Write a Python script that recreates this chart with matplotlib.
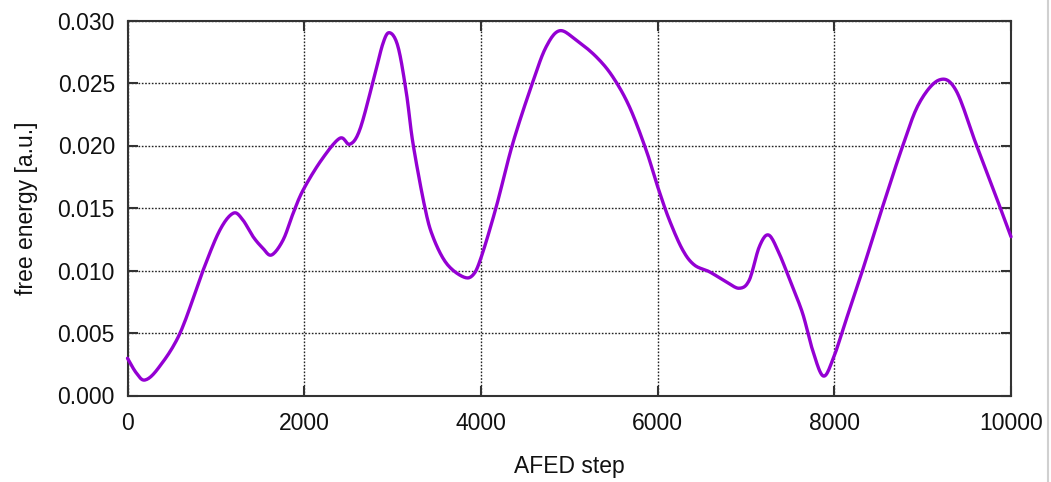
import matplotlib
matplotlib.use("Agg")
import matplotlib.pyplot as plt
from matplotlib.lines import Line2D
import numpy as np

# AFED step vs free energy [a.u.]
steps = [0, 100, 198, 350, 594, 857, 1046, 1196, 1300, 1422, 1530, 1630, 1761,
         1875, 1988, 2195, 2403, 2516, 2628, 2779, 2892, 2968, 3062, 3157,
         3231, 3364, 3457, 3609, 3797, 3910, 4005, 4174, 4362, 4588, 4739,
         4890, 5078, 5305, 5492, 5681, 5870, 6001, 6133, 6284, 6416, 6586,
         6775, 6925, 7038, 7151, 7256, 7375, 7510, 7641, 7754, 7875, 7990,
         8131, 8319, 8545, 8771, 8960, 9186, 9375, 9601, 9789, 10000]
energy = [0.00298, 0.0018, 0.00124, 0.0022, 0.00498, 0.01004, 0.01324, 0.01458,
          0.0141, 0.0127, 0.0118, 0.01124, 0.01244, 0.01458, 0.01644, 0.01884,
          0.02058, 0.0201, 0.02124, 0.0251, 0.02818, 0.02902, 0.0279, 0.02418,
          0.02018, 0.0151, 0.0127, 0.01058, 0.0095, 0.00964, 0.0111, 0.0151,
          0.0202, 0.0251, 0.0279, 0.02918, 0.02844, 0.0271, 0.0255, 0.0231,
          0.01964, 0.0167, 0.01404, 0.01164, 0.01044, 0.0099, 0.0091, 0.00858,
          0.00924, 0.0119, 0.01284, 0.01138, 0.00898, 0.00658, 0.00364, 0.00156,
          0.0030, 0.0060, 0.0100, 0.01506, 0.0199, 0.02338, 0.02524,
          0.02444, 0.02018, 0.0167, 0.0127]

xticks = [0, 2000, 4000, 6000, 8000, 10000]
yticks = [0.000, 0.005, 0.010, 0.015, 0.020, 0.025, 0.030]
ytick_labels = ["0.000", "0.005", "0.010", "0.015", "0.020", "0.025", "0.030"]

plt.rcParams['font.family'] = ['Liberation Sans', 'DejaVu Sans']
FS = 16.5

W, H = 1051, 482
fig = plt.figure(figsize=(W / 100, H / 100), dpi=100)
ax = fig.add_axes([127.5 / W, (H - 395.5) / H, 883.5 / W, 375 / H])

xs = np.array(steps, dtype=float)
ys = np.array(energy, dtype=float)

# Catmull-Rom spline through the read points for a smooth curve
def catmull(x, y, n=12):
    px = np.concatenate([[2 * x[0] - x[1]], x, [2 * x[-1] - x[-2]]])
    py = np.concatenate([[2 * y[0] - y[1]], y, [2 * y[-1] - y[-2]]])
    ox, oy = [], []
    t = np.linspace(0, 1, n, endpoint=False)
    for i in range(1, len(px) - 2):
        p0, p1, p2, p3 = px[i - 1], px[i], px[i + 1], px[i + 2]
        q0, q1, q2, q3 = py[i - 1], py[i], py[i + 1], py[i + 2]
        ox.append(0.5 * ((2 * p1) + (-p0 + p2) * t + (2 * p0 - 5 * p1 + 4 * p2 - p3) * t ** 2 + (-p0 + 3 * p1 - 3 * p2 + p3) * t ** 3))
        oy.append(0.5 * ((2 * q1) + (-q0 + q2) * t + (2 * q0 - 5 * q1 + 4 * q2 - q3) * t ** 2 + (-q0 + 3 * q1 - 3 * q2 + q3) * t ** 3))
    ox.append([x[-1]]); oy.append([y[-1]])
    return np.concatenate(ox), np.concatenate(oy)

cx, cy = catmull(xs, ys)
ax.plot(cx, cy, color="#9400D3", lw=2.4, solid_capstyle="round", zorder=3, clip_on=False)

ax.set_xlim(0, 10000)
ax.set_ylim(0, 0.030)
ax.set_xticks(xticks)
ax.set_xticklabels([str(t) for t in xticks], fontsize=FS)
ax.set_yticks(yticks)
ax.set_yticklabels(ytick_labels, fontsize=FS)

ax.grid(True, color="#222222", linestyle=(0, (1.2, 1.2)), linewidth=1.0, zorder=1)
ax.tick_params(direction="in", length=7.5, width=1.5, color="#333333",
               top=True, right=True, labelcolor="#111111")
ax.tick_params(axis="x", pad=12)
ax.tick_params(axis="y", pad=9)
for s in ax.spines.values():
    s.set_color("#333333")
    s.set_linewidth(1.5)

ax.set_xlabel("AFED step", fontsize=FS, color="#111111", labelpad=14)
ax.set_ylabel("free energy [a.u.]", fontsize=FS, color="#111111", labelpad=14)

# light gray frame line at right edge of screenshot
fig.add_artist(Line2D([1047.5 / W, 1047.5 / W], [0, 1], color="#d0d0d0", lw=1.5))

fig.savefig("out.png", dpi=100)
